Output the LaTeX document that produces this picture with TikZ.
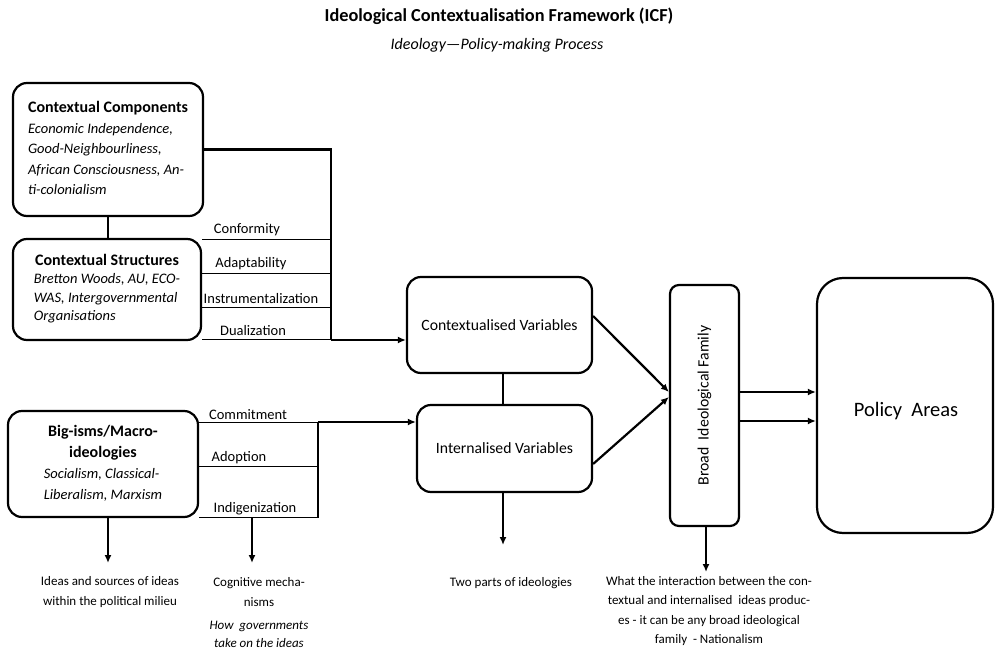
\documentclass[tikz,border=0pt]{standalone}
\usepackage{fontspec}
\setmainfont{Carlito}
\usetikzlibrary{arrows.meta}
\newcommand{\boxhead}[1]{{\fontsize{16}{20}\selectfont\bfseries #1}}
\tikzset{
    box/.style={draw,line width=2.2pt,rounded corners=14pt,inner sep=0pt},
    thinline/.style={line width=0.9pt},
    trunk/.style={line width=2.2pt},
    arr/.style={line width=2.2pt,-{Latex[length=8pt,width=7pt]}},
    lbl/.style={font=\fontsize{14.5}{17}\selectfont,anchor=south,inner sep=1pt},
    note/.style={font=\fontsize{13}{19.5}\selectfont,align=center,inner sep=0pt}
}
\begin{document}
\begin{tikzpicture}[x=1pt,y=-1pt]
                \useasboundingbox (0,0) rectangle (995,652);
                % title
                \node[font=\fontsize{18.3}{21}\selectfont\bfseries] (title) at (499,16) {Ideological Contextualisation Framework (ICF)};
                \node[font=\fontsize{16}{19}\selectfont\itshape] (subtitle) at (497,45) {Ideology---Policy-making Process};
                % left column
                \node[box,minimum width=190,minimum height=133,font=\fontsize{14.5}{20.5}\selectfont] (comp) at (108,149.5) {%
                    \begin{tabular}{@{}l@{}}\boxhead{Contextual Components}\\ \textit{Economic Independence,}\\ \textit{Good-Neighbourliness,}\\ \textit{African Consciousness, An-}\\ \textit{ti-colonialism}\end{tabular}};
                \node[box,minimum width=188,minimum height=101,font=\fontsize{14.5}{18.5}\selectfont] (struct) at (107,289.5) {%
                    \begin{tabular}{@{}l@{}}\multicolumn{1}{@{}c@{}}{\boxhead{Contextual Structures}}\\ \textit{Bretton Woods, AU, ECO-}\\ \textit{WAS, Intergovernmental}\\ \textit{Organisations}\end{tabular}};
                \node[box,minimum width=190,minimum height=106,font=\fontsize{14.5}{21}\selectfont] (macro) at (103,464) {%
                    \begin{tabular}{@{}l@{}}\multicolumn{1}{@{}c@{}}{\boxhead{Big-isms/Macro-}}\\ \multicolumn{1}{@{}c@{}}{\boxhead{ideologies}}\\ \textit{Socialism, Classical-}\\ \textit{Liberalism, Marxism}\end{tabular}};
                % middle and right
                \node[box,minimum width=185,minimum height=96,font=\fontsize{15.7}{18}\selectfont] (ctx) at (499.5,325) {Contextualised Variables};
                \node[box,minimum width=175,minimum height=87,font=\fontsize{15.7}{18}\selectfont] (intl) at (504.5,448.5) {Internalised Variables};
                \node[box,rounded corners=9pt,minimum width=69,minimum height=241] (fam) at (704.5,405.5) {};
                \node[rotate=90,font=\fontsize{15.8}{18}\selectfont] (famtxt) at (fam.center) {Broad\ \ Ideological Family};
                \node[box,rounded corners=26pt,minimum width=176,minimum height=255] (pol) at (905,405.5) {};
                \node[font=\fontsize{20.5}{24}\selectfont] (poltxt) at (906,411) {Policy\ \ Areas};
                % upper trunk
                \coordinate (trunkA) at (331,340);
                \draw[trunk] (comp.south) -- (comp.south |- struct.north);
                \draw[trunk] (comp.east) -| (trunkA);
                \draw[arr] (trunkA) -- (trunkA -| ctx.west);
                \foreach \y/\lx/\t in {239/247/Conformity,273/251/Adaptability,307/261/Instrumentalization,339/253/Dualization}{
                    \draw[thinline] (struct.east |- 0,\y) -- (trunkA |- 0,\y);
                    \node[lbl] at (\lx,\y-2) {\t};
                }
                % lower trunk
                \coordinate (trunkB) at (318,422);
                \foreach \y/\lx/\t in {422/248/Commitment,466/239/Adoption,517/255/Indigenization}{
                    \draw[thinline] (macro.east |- 0,\y) -- (trunkB |- 0,\y);
                    \node[lbl] at (\lx,\y-1) {\t};
                }
                \draw[trunk] (trunkB) -- (trunkB |- macro.south);
                \draw[arr] (trunkB) -- (trunkB -| intl.west);
                \draw[trunk] (ctx.south -| 503,0) -- (intl.north -| 503,0);
                % into the family and the policy areas
                \draw[arr] ([yshift=9pt]ctx.east) -- ([yshift=13.5pt]fam.west);
                \draw[arr] ([yshift=-15.5pt]intl.east) -- ([yshift=8.5pt]fam.west);
                \draw[arr] ([yshift=13.5pt]fam.east) -- ([yshift=13.5pt]fam.east -| pol.west);
                \draw[arr] ([yshift=-15.5pt]fam.east) -- ([yshift=-15.5pt]fam.east -| pol.west);
                % notes below
                \coordinate (tipA) at (108,563);
                \coordinate (tipB) at (252,563);
                \coordinate (tipC) at (503,545);
                \coordinate (tipD) at (706,572);
                \draw[arr] (tipA |- macro.south) -- (tipA);
                \draw[arr] (tipB |- macro.south) -- (tipB);
                \draw[arr] (tipC |- intl.south) -- (tipC);
                \draw[arr] (tipD |- fam.south) -- (tipD);
                \node[note] (ideas) at (110,592) {Ideas and sources of ideas\\within the political milieu};
                \node[note] (cogn) at (259,592) {Cognitive mecha-\\nisms};
                \node[note,font=\fontsize{13}{18.5}\selectfont\itshape] (how) at (259,634.5) {How\ \ governments\\take on the ideas};
                \node[note] (parts) at (511,583) {Two parts of ideologies};
                \node[note] (inter) at (709,611) {What the interaction between the con-\\textual and internalised\ \ ideas produc-\\es - it can be any broad ideological\\family\ \ - Nationalism};
            \end{tikzpicture}
\end{document}
